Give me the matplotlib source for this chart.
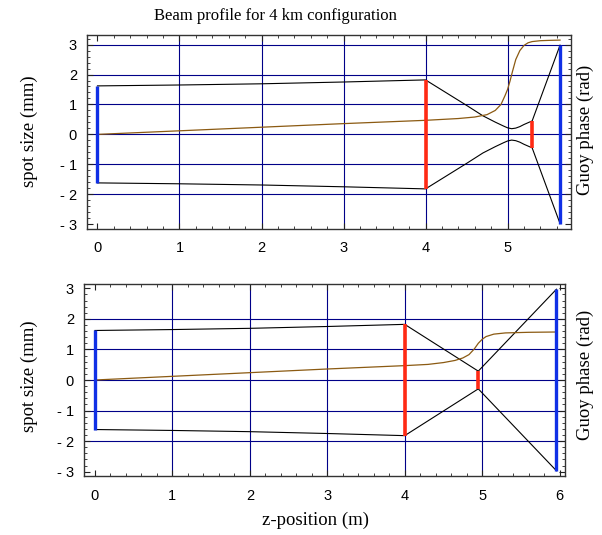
import matplotlib
matplotlib.use("Agg")
import matplotlib.pyplot as plt
from matplotlib.ticker import MultipleLocator, FuncFormatter

# ---------------- data ----------------
# Top panel: beam radius (mm), mirrors/lenses, Gouy phase (rad)
top_z_beam = [0.0, 1.0, 2.0, 3.0, 4.0, 4.3, 4.5, 4.7, 4.85, 4.95, 5.0, 5.05,
              5.1, 5.15, 5.2, 5.25, 5.3, 5.64]
top_w_beam = [1.62, 1.65, 1.69, 1.75, 1.82, 1.31, 0.97, 0.62, 0.41, 0.28, 0.22,
              0.19, 0.21, 0.26, 0.33, 0.39, 0.45, 2.98]
top_z_gouy = [0.0, 1.0, 2.0, 3.0, 4.0, 4.4, 4.6, 4.75, 4.85, 4.92, 4.97, 5.0,
              5.03, 5.06, 5.1, 5.15, 5.2, 5.25, 5.3, 5.4, 5.5, 5.64]
top_gouy = [0.0, 0.12, 0.24, 0.36, 0.47, 0.53, 0.58, 0.66, 0.8, 1.0, 1.3, 1.5,
            1.78, 2.1, 2.5, 2.8, 2.97, 3.06, 3.1, 3.13, 3.14, 3.15]
top_mirror_z = [0.0, 5.64]
top_mirror_w = [1.62, 2.98]
top_lens_z = [4.0, 5.3]
top_lens_w = [1.82, 0.45]

# Bottom panel
bot_z_beam = [0.0, 1.0, 2.0, 3.0, 4.0, 4.95, 5.96]
bot_w_beam = [1.62, 1.65, 1.69, 1.75, 1.82, 0.29, 2.97]
bot_z_gouy = [0.0, 1.0, 2.0, 3.0, 4.0, 4.3, 4.5, 4.65, 4.75, 4.83, 4.9, 4.95,
              5.0, 5.05, 5.15, 5.3, 5.6, 5.96]
bot_gouy = [0.0, 0.12, 0.24, 0.36, 0.47, 0.51, 0.57, 0.64, 0.72, 0.83, 1.02,
            1.2, 1.33, 1.42, 1.5, 1.54, 1.56, 1.57]
bot_mirror_z = [0.0, 5.96]
bot_mirror_w = [1.62, 2.97]
bot_lens_z = [4.0, 4.95]
bot_lens_w = [1.82, 0.29]

top_hgrid = [-2, -1, 0, 1, 2, 3]
top_vgrid = [1, 2, 3, 4, 5]
bot_hgrid = [-2, -1, 0, 1, 2]
bot_vgrid = [1, 2, 3, 4, 5]

title = "Beam profile for 4 km configuration"
xlabel = "z-position (m)"
ylabel = "spot size (mm)"
rlabel = "Guoy phase (rad)"

# ---------------- style ----------------
W, H = 602, 535
plt.rcParams['font.family'] = ['Liberation Sans', 'DejaVu Sans']
serif = ['Liberation Serif', 'DejaVu Serif']
GRID = '#000088'
BLUE = '#1030e6'
RED = '#ff2a14'
BROWN = '#8b5a12'
TXT = 13.5

fig = plt.figure(figsize=(W / 100, H / 100), dpi=100)


def px_axes(l, t, r, b):
    return fig.add_axes([l / W, 1 - b / H, (r - l) / W, (b - t) / H])


def fmt(v, pos):
    v = int(round(v))
    return f"- {abs(v)}" if v < 0 else f"{v}"


def panel(ax, zb, wb, zg, g, mz, mw, lz, lw, hgrid, vgrid, xlim, ylim, xmax_tick):
    for y in hgrid:
        ax.axhline(y, color=GRID, lw=0.8, zorder=1)
    for x in vgrid:
        ax.axvline(x, color=GRID, lw=0.8, zorder=1)
    ax.plot(zb, wb, color='black', lw=0.8, zorder=3)
    ax.plot(zb, [-w for w in wb], color='black', lw=0.8, zorder=3)
    ax.plot(zg, g, color=BROWN, lw=0.9, zorder=3)
    for z, w in zip(mz, mw):
        ax.plot([z, z], [-w, w], color=BLUE, lw=2.4, solid_capstyle='butt', zorder=4)
    for z, w in zip(lz, lw):
        ax.plot([z, z], [-w, w], color=RED, lw=2.6, solid_capstyle='butt', zorder=4)
    ax.set_xlim(*xlim)
    ax.set_ylim(*ylim)
    ax.set_xticks(range(0, xmax_tick + 1))
    ax.set_yticks([-3, -2, -1, 0, 1, 2, 3])
    ax.yaxis.set_major_formatter(FuncFormatter(fmt))
    ax.xaxis.set_minor_locator(MultipleLocator(0.2))
    ax.yaxis.set_minor_locator(MultipleLocator(0.2))
    ax.tick_params(which='both', direction='in', top=True, right=True,
                   labelsize=10.5, colors='#222222', labelcolor='black')
    ax.tick_params(which='major', length=4, width=0.8)
    ax.tick_params(which='minor', length=2, width=0.6)
    ax.tick_params(axis='y', pad=7.5)
    ax.tick_params(axis='x', pad=9)
    for s in ax.spines.values():
        s.set_color('#333333')
        s.set_linewidth(1.0)


ax1 = px_axes(87.3, 35, 570.7, 229)
panel(ax1, top_z_beam, top_w_beam, top_z_gouy, top_gouy, top_mirror_z, top_mirror_w,
      top_lens_z, top_lens_w, top_hgrid, top_vgrid, (-0.124, 5.77), (-3.16, 3.32), 5)

ax2 = px_axes(84.3, 284, 565, 476)
panel(ax2, bot_z_beam, bot_w_beam, bot_z_gouy, bot_gouy, bot_mirror_z, bot_mirror_w,
      bot_lens_z, bot_lens_w, bot_hgrid, bot_vgrid, (-0.138, 6.07), (-3.14, 3.14), 6)

fig.text(275 / W, 1 - 20 / H, title, family=serif, fontsize=12, ha='center', va='baseline')
fig.text(316 / W, 1 - 520 / H, xlabel, family=serif, fontsize=TXT, ha='center', va='center')
fig.text(29 / W, 1 - 131 / H, ylabel, family=serif, fontsize=TXT, ha='center', va='center', rotation=90)
fig.text(29 / W, 1 - 376 / H, ylabel, family=serif, fontsize=TXT, ha='center', va='center', rotation=90)
fig.text(585 / W, 1 - 130 / H, rlabel, family=serif, fontsize=TXT, ha='center', va='center', rotation=90)
fig.text(585 / W, 1 - 375 / H, rlabel, family=serif, fontsize=TXT, ha='center', va='center', rotation=90)

fig.savefig("out.png", dpi=100)
